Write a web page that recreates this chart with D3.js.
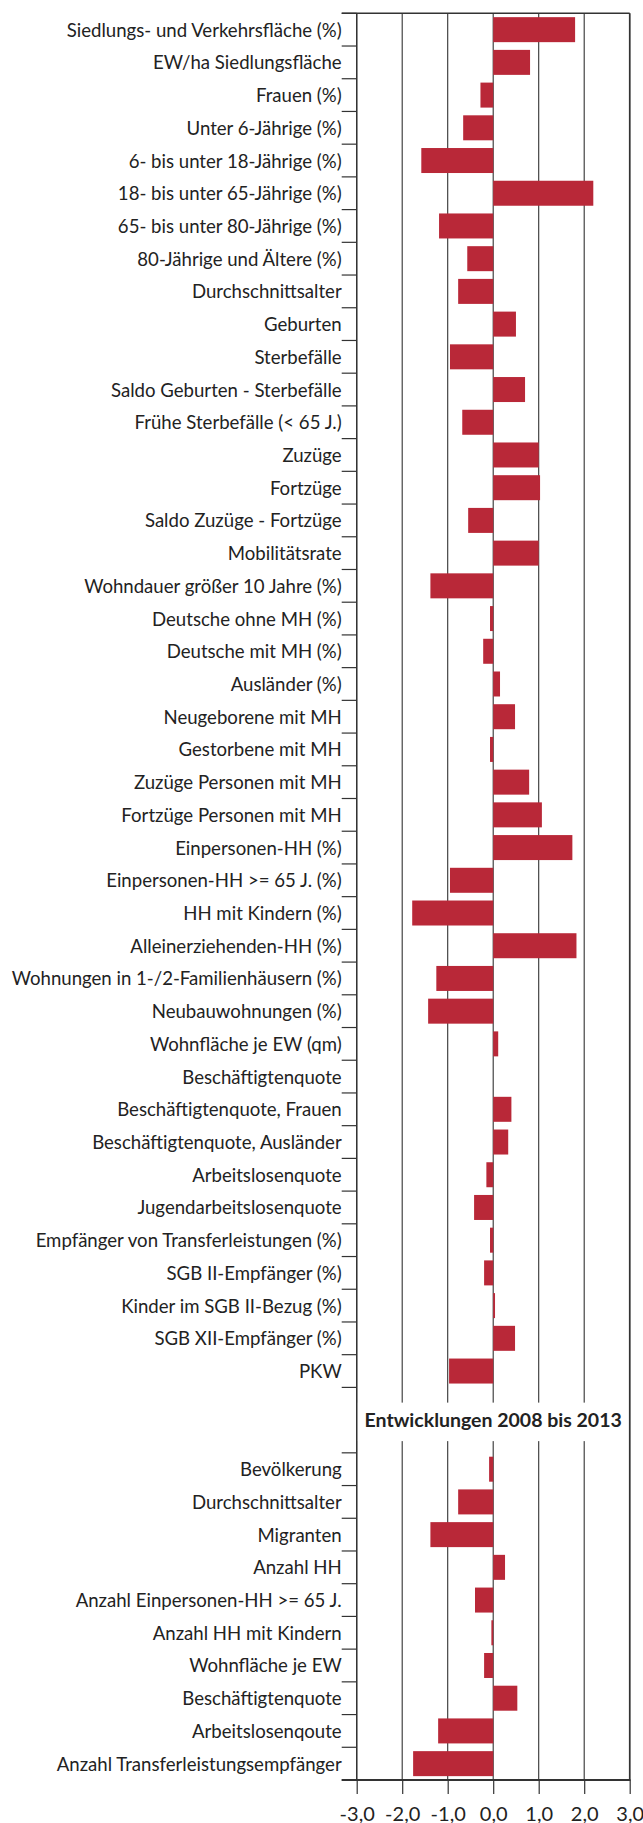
<!DOCTYPE html>
<html>
<head>
<meta charset="utf-8">
<script src="https://cdn.jsdelivr.net/npm/d3@7"></script>
<style>
  html, body { margin: 0; padding: 0; background: #fff; }
  svg { display: block; }
</style>
</head>
<body>
<svg id="chart"></svg>
<script>
// Standardised deviations of the district from the city average
const indicatorLabels = [
  "Siedlungs- und Verkehrsfläche (%)",
  "EW/ha Siedlungsfläche",
  "Frauen (%)",
  "Unter 6-Jährige (%)",
  "6- bis unter 18-Jährige (%)",
  "18- bis unter 65-Jährige (%)",
  "65- bis unter 80-Jährige (%)",
  "80-Jährige und Ältere (%)",
  "Durchschnittsalter",
  "Geburten",
  "Sterbefälle",
  "Saldo Geburten - Sterbefälle",
  "Frühe Sterbefälle (< 65 J.)",
  "Zuzüge",
  "Fortzüge",
  "Saldo Zuzüge - Fortzüge",
  "Mobilitätsrate",
  "Wohndauer größer 10 Jahre (%)",
  "Deutsche ohne MH (%)",
  "Deutsche mit MH (%)",
  "Ausländer (%)",
  "Neugeborene mit MH",
  "Gestorbene mit MH",
  "Zuzüge Personen mit MH",
  "Fortzüge Personen mit MH",
  "Einpersonen-HH (%)",
  "Einpersonen-HH >= 65 J. (%)",
  "HH mit Kindern (%)",
  "Alleinerziehenden-HH (%)",
  "Wohnungen in 1-/2-Familienhäusern (%)",
  "Neubauwohnungen (%)",
  "Wohnfläche je EW (qm)",
  "Beschäftigtenquote",
  "Beschäftigtenquote, Frauen",
  "Beschäftigtenquote, Ausländer",
  "Arbeitslosenquote",
  "Jugendarbeitslosenquote",
  "Empfänger von Transferleistungen (%)",
  "SGB II-Empfänger (%)",
  "Kinder im SGB II-Bezug (%)",
  "SGB XII-Empfänger (%)",
  "PKW"
];
const indicatorValues = [
  1.80, 0.81, -0.28, -0.66, -1.58, 2.20, -1.19, -0.57, -0.77, 0.50,
  -0.95, 0.70, -0.68, 1.00, 1.03, -0.55, 1.00, -1.38, -0.07, -0.22,
  0.15, 0.48, -0.07, 0.79, 1.07, 1.74, -0.95, -1.78, 1.83, -1.25,
  -1.43, 0.11, 0.00, 0.40, 0.33, -0.15, -0.42, -0.07, -0.20, 0.04,
  0.48, -0.97
];

const trendTitle = "Entwicklungen 2008 bis 2013";
const trendLabels = [
  "Bevölkerung",
  "Durchschnittsalter",
  "Migranten",
  "Anzahl HH",
  "Anzahl Einpersonen-HH >= 65 J.",
  "Anzahl HH mit Kindern",
  "Wohnfläche je EW",
  "Beschäftigtenquote",
  "Arbeitslosenqoute",
  "Anzahl Transferleistungsempfänger"
];
const trendValues = [-0.09, -0.77, -1.38, 0.26, -0.40, -0.04, -0.20, 0.53, -1.21, -1.76];

const xTickValues = [-3, -2, -1, 0, 1, 2, 3];

// ---- layout ----
const width = 643, height = 1823;
const plotLeft = 356.7, plotRight = 629.7, plotTop = 13.3, plotBottom = 1780;
const tickLen = 15;
const barColor = "#b92838";
const lineColor = "#333";
const textColor = "#222";
const fontFamily = "Lato, 'Open Sans', sans-serif";
const fontSize = 18.6;

const rows = [
  ...indicatorLabels.map((label, i) => ({ key: "i" + i, label, value: indicatorValues[i] })),
  { key: "gap0", gap: true },
  { key: "gap1", gap: true },
  ...trendLabels.map((label, i) => ({ key: "t" + i, label, value: trendValues[i] }))
];

const svg = d3.select("#chart").attr("width", width).attr("height", height);

const x = d3.scaleLinear().domain([-3, 3]).range([plotLeft, plotRight]);
const y = d3.scaleBand()
  .domain(rows.map(d => d.key))
  .range([plotTop, plotBottom])
  .paddingInner(0.236)
  .paddingOuter(0.118);
const step = y.step();
const rowTop = d => y(d.key) - step * y.paddingInner() / 2;

// vertical gridlines
svg.append("g")
  .selectAll("line")
  .data(xTickValues)
  .join("line")
  .attr("x1", d => x(d)).attr("x2", d => x(d))
  .attr("y1", plotTop).attr("y2", plotBottom)
  .attr("stroke", lineColor).attr("stroke-width", 1.1);

// section header band
const gapRows = rows.filter(d => d.gap);
const gapTop = rowTop(gapRows[0]);
const gapBottom = rowTop(gapRows[gapRows.length - 1]) + step;
const gapMid = (gapTop + gapBottom) / 2;
svg.append("rect")
  .attr("x", plotLeft + 1).attr("width", plotRight - plotLeft - 2)
  .attr("y", gapMid - 17.5).attr("height", 38.5)
  .attr("fill", "#fff");
svg.append("text")
  .attr("x", (plotLeft + plotRight) / 2)
  .attr("y", gapMid + 6.5)
  .attr("text-anchor", "middle")
  .attr("font-family", fontFamily)
  .attr("font-weight", "bold")
  .attr("font-size", 19.5)
  .attr("fill", textColor)
  .text(trendTitle);

// bars
const dataRows = rows.filter(d => !d.gap);
svg.append("g")
  .selectAll("rect")
  .data(dataRows.filter(d => d.value !== 0))
  .join("rect")
  .attr("x", d => x(Math.min(0, d.value)))
  .attr("width", d => Math.abs(x(d.value) - x(0)))
  .attr("y", d => y(d.key))
  .attr("height", y.bandwidth())
  .attr("fill", barColor);

// plot frame: left, right, top, bottom
svg.append("line")
  .attr("x1", plotLeft).attr("x2", plotLeft)
  .attr("y1", plotTop).attr("y2", plotBottom)
  .attr("stroke", lineColor).attr("stroke-width", 1.4);
svg.append("line")
  .attr("x1", plotRight).attr("x2", plotRight)
  .attr("y1", plotTop).attr("y2", plotBottom)
  .attr("stroke", lineColor).attr("stroke-width", 1.6);
svg.append("line")
  .attr("x1", plotLeft - tickLen).attr("x2", plotRight)
  .attr("y1", plotTop).attr("y2", plotTop)
  .attr("stroke", lineColor).attr("stroke-width", 1.4);
svg.append("line")
  .attr("x1", plotLeft - tickLen).attr("x2", plotRight + 0.8)
  .attr("y1", plotBottom).attr("y2", plotBottom)
  .attr("stroke", lineColor).attr("stroke-width", 2);

// category ticks at row boundaries
const boundaries = Array.from(new Set(
  dataRows.flatMap(d => [rowTop(d), rowTop(d) + step].map(v => +v.toFixed(2)))
));
svg.append("g")
  .selectAll("line")
  .data(boundaries)
  .join("line")
  .attr("x1", plotLeft - tickLen).attr("x2", plotLeft)
  .attr("y1", d => d).attr("y2", d => d)
  .attr("stroke", lineColor).attr("stroke-width", 1.2);

// category labels
svg.append("g")
  .selectAll("text")
  .data(dataRows)
  .join("text")
  .attr("x", plotLeft - tickLen)
  .attr("y", d => y(d.key) + y.bandwidth() / 2 + 7)
  .attr("text-anchor", "end")
  .attr("font-family", fontFamily)
  .attr("font-size", fontSize)
  .attr("fill", textColor)
  .text(d => d.label);

// value axis
const deLocale = d3.formatLocale({
  decimal: ",", thousands: ".", grouping: [3], currency: ["", " €"], minus: "-"
});
const fmt = deLocale.format(".1f");
const xAxis = svg.append("g")
  .attr("transform", `translate(0,${plotBottom})`)
  .call(d3.axisBottom(x).tickValues(xTickValues).tickSize(14).tickFormat(fmt));
xAxis.select(".domain").remove();
xAxis.selectAll(".tick line").attr("stroke", lineColor).attr("stroke-width", 1.2);
xAxis.selectAll(".tick text")
  .attr("y", 40.5).attr("dy", null)
  .attr("font-family", fontFamily)
  .attr("font-size", 20)
  .attr("fill", textColor);
</script>
</body>
</html>
